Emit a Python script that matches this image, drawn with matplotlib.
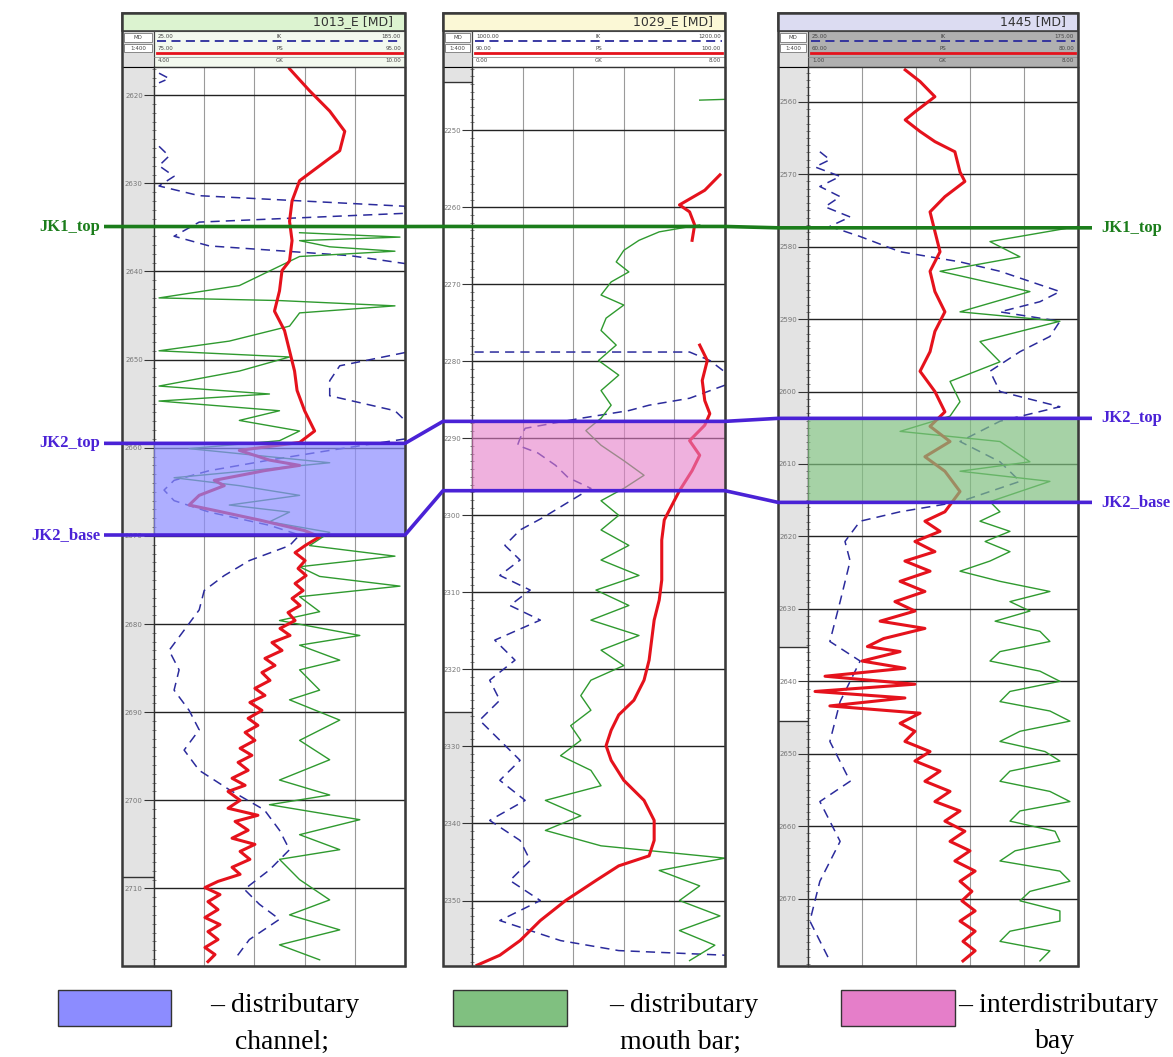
import numpy as np
import matplotlib.pyplot as plt
from matplotlib.patches import Rectangle

W, H = 1173, 1057
nan = np.nan

# ---- wells / header info
wells = ['1013_E [MD]', '1029_E [MD]', '1445 [MD]']
ik_scale = [('25.00', '185.00'), ('1000.00', '1200.00'), ('25.00', '175.00')]
ps_scale = [('75.00', '95.00'), ('90.00', '100.00'), ('60.00', '80.00')]
gk_scale = [('4.00', '10.00'), ('0.00', '8.00'), ('1.00', '8.00')]
depth_top = [2616.8, 2241.8, 2555.2]
depth_bot = [2718.8, 2358.5, 2679.3]
depth_labels = [list(range(2620, 2711, 10)), list(range(2250, 2351, 10)), list(range(2560, 2671, 10))]

# ---- formation tops (m MD) for each well
jk1_top = [2634.9, 2262.5, 2577.4]
jk2_top = [2659.5, 2287.8, 2603.7]
jk2_base = [2669.9, 2296.8, 2615.3]

# ---- log curves: (depth, position across track 0..10)
w1_ps = [(2617.0, 5.4), (2619.5, 6.2), (2621.8, 7.0), (2624.1, 7.6), (2626.3, 7.4), (2628.0, 6.6),
         (2629.7, 5.8), (2632.0, 5.5), (2634.3, 5.4), (2636.5, 5.5), (2638.8, 5.4), (2639.9, 5.1),
         (2642.2, 5.0), (2644.5, 4.8), (2646.7, 5.2), (2649.0, 5.4), (2651.3, 5.6), (2653.5, 5.7),
         (2655.8, 6.0), (2658.1, 6.4), (2659.4, 5.8), (2660.3, 3.4), (2661.4, 4.6), (2662.0, 5.8),
         (2662.6, 4.4), (2663.7, 2.4), (2664.3, 2.8), (2665.4, 1.8), (2666.5, 1.4), (2667.1, 2.4),
         (2668.2, 4.2), (2669.4, 6.0), (2670.1, 6.6), (2671.1, 6.02), (2671.9, 5.62), (2672.8, 6.02),
         (2673.7, 5.74), (2674.5, 6.06), (2675.4, 5.62), (2676.2, 5.94), (2677.1, 5.5), (2677.9, 5.82),
         (2678.7, 5.34), (2679.6, 5.62), (2680.5, 5.02), (2681.3, 5.42), (2682.1, 4.7), (2683.0, 5.1),
         (2683.9, 4.42), (2684.7, 4.82), (2685.5, 4.3), (2686.4, 4.62), (2687.3, 4.02), (2688.1, 4.42),
         (2688.9, 3.82), (2689.8, 4.3), (2690.7, 3.75), (2691.5, 4.14), (2692.3, 3.63), (2693.2, 4.02),
         (2694.1, 3.43), (2694.9, 3.9), (2695.7, 3.35), (2696.6, 3.75), (2697.5, 3.11), (2698.3, 3.63),
         (2699.0, 2.95), (2700.0, 3.43), (2700.9, 2.95), (2701.7, 4.14), (2702.4, 3.23), (2703.4, 3.75),
         (2704.3, 3.11), (2705.0, 4.02), (2705.8, 3.43), (2706.7, 3.82), (2707.6, 3.11), (2708.4, 3.43),
         (2709.2, 2.55), (2709.9, 2.03), (2710.7, 2.63), (2711.5, 2.15), (2712.4, 2.55), (2713.3, 2.03),
         (2714.1, 2.63), (2714.9, 2.15), (2715.8, 2.55), (2716.7, 2.03), (2717.5, 2.43), (2718.3, 2.15)]
w1_gk = [(2635.6, 5.8), (2636.1, 9.8), (2636.5, 5.8), (2637.2, 7.0), (2637.7, 9.6), (2638.3, 5.8),
         (2639.4, 5.0), (2640.5, 4.2), (2641.6, 3.4), (2643.0, 0.2), (2643.3, 5.0), (2643.9, 9.6),
         (2644.7, 5.8), (2646.2, 5.4), (2647.9, 3.0), (2649.0, 0.2), (2649.7, 5.4), (2651.3, 3.4),
         (2653.0, 0.2), (2653.9, 4.6), (2654.7, 0.2), (2655.8, 5.0), (2656.9, 3.4), (2658.1, 5.8),
         (2659.2, 5.0), (2660.1, 1.4), (2660.9, 4.2), (2661.7, 7.0), (2662.6, 3.8), (2663.4, 0.8),
         (2664.3, 3.4), (2665.4, 5.8), (2666.5, 3.0), (2667.3, 5.4), (2668.4, 4.6), (2669.6, 7.0),
         (2671.1, 6.2), (2672.3, 9.6), (2673.5, 5.8), (2674.6, 6.6), (2675.7, 9.8), (2676.9, 5.8),
         (2678.6, 6.6), (2679.6, 5.0), (2681.3, 8.2), (2682.4, 5.8), (2684.1, 7.4), (2685.2, 5.8),
         (2687.5, 6.6), (2688.6, 5.4), (2690.9, 7.4), (2693.2, 5.8), (2695.4, 7.0), (2697.7, 5.0),
         (2699.4, 7.0), (2700.5, 4.6), (2702.2, 8.2), (2703.9, 5.8), (2705.6, 7.4), (2706.7, 5.0),
         (2709.0, 5.8), (2711.3, 7.0), (2713.0, 5.4), (2714.7, 7.4), (2716.4, 5.0), (2718.1, 6.6)]
w1_ik = [(2617.5, 0.2), (2618.1, 0.6), (2618.6, 0.2), (nan, nan),
         (2625.8, 0.2), (2626.9, 0.6), (2628.0, 0.2), (2629.2, 0.8), (2630.3, 0.2), (2631.4, 1.8),
         (2632.6, 10.0), (2633.4, 10.0), (2634.4, 1.8), (2636.0, 0.8), (2637.1, 2.2), (2638.2, 7.8),
         (2639.1, 10.0), (nan, nan),
         (2649.2, 10.0), (2650.7, 7.4), (2652.4, 7.0), (2654.1, 7.0), (2655.8, 9.6), (2656.9, 10.0),
         (nan, nan),
         (2659.0, 10.0), (2660.3, 7.0), (2661.4, 4.6), (2662.6, 2.2), (2663.7, 0.8), (2664.8, 0.4),
         (2666.0, 0.8), (2667.3, 2.2), (2668.8, 4.6), (2669.9, 5.8), (2671.1, 5.4), (2672.8, 3.8),
         (2674.5, 2.8), (2676.2, 2.0), (2678.4, 1.8), (2680.7, 1.2), (2683.0, 0.6), (2685.2, 1.0),
         (2687.5, 0.8), (2689.8, 1.4), (2692.0, 1.8), (2694.3, 1.2), (2696.6, 1.8), (2698.8, 3.0),
         (2701.1, 4.4), (2703.4, 5.0), (2705.6, 5.4), (2707.9, 4.6), (2710.1, 3.6), (2711.8, 4.2),
         (2713.5, 5.0), (2715.8, 3.8), (2718.1, 3.2)]

w2_ps = [(2255.8, 9.8), (2257.8, 9.2), (2259.7, 8.2), (2260.6, 8.6), (2262.3, 8.8), (2264.3, 8.7),
         (nan, nan),
         (2277.9, 9.0), (2279.9, 9.3), (2282.5, 9.1), (2285.1, 9.2), (2286.8, 9.4), (2288.3, 9.2),
         (2290.3, 8.6), (2292.2, 9.0), (2294.2, 8.7), (2296.8, 8.2), (2298.7, 7.9), (2300.6, 7.6),
         (2303.2, 7.5), (2305.8, 7.5), (2308.4, 7.5), (2311.0, 7.4), (2313.6, 7.2), (2316.2, 7.1),
         (2318.8, 7.0), (2321.4, 6.8), (2324.0, 6.4), (2325.9, 5.8), (2327.9, 5.5), (2329.9, 5.3),
         (2331.8, 5.5), (2334.4, 6.0), (2337.0, 6.8), (2339.6, 7.2), (2342.2, 7.2), (2344.2, 7.0),
         (2345.5, 5.8), (2347.4, 4.9), (2350.0, 3.7), (2352.6, 2.7), (2355.2, 1.9), (2357.1, 1.1),
         (2358.4, 0.2)]
w2_gk = [(2246.0, 10.0), (2246.1, 9.0), (nan, nan),
         (2262.3, 9.0), (2263.2, 7.4), (2264.3, 6.6), (2265.6, 6.0), (2267.1, 5.7), (2268.4, 6.2),
         (2269.7, 5.5), (2271.4, 5.1), (2272.7, 6.0), (2274.4, 5.3), (2276.0, 5.1), (2277.9, 5.7),
         (2279.9, 5.0), (2281.8, 5.8), (2283.8, 5.1), (2285.7, 5.5), (2287.4, 5.1), (2289.0, 4.5),
         (2290.9, 5.1), (2292.9, 6.0), (2294.8, 6.8), (2296.5, 6.0), (2298.1, 5.1), (2300.0, 5.8),
         (2301.9, 5.1), (2303.9, 6.2), (2305.8, 5.1), (2307.8, 6.6), (2309.7, 4.9), (2311.7, 6.2),
         (2313.6, 4.7), (2315.6, 6.6), (2317.5, 5.1), (2319.5, 6.0), (2321.4, 4.7), (2323.4, 4.3),
         (2325.3, 4.7), (2327.3, 3.9), (2329.2, 4.3), (2331.2, 3.5), (2333.1, 4.7), (2335.1, 5.1),
         (2337.0, 2.9), (2339.0, 4.3), (2340.9, 2.9), (2342.9, 5.1), (2344.5, 10.0), (2346.1, 7.4),
         (2348.1, 9.0), (2350.0, 8.2), (2352.0, 9.8), (2353.9, 8.2), (2355.8, 9.6), (2357.8, 8.6)]
w2_ik = [(2278.8, 0.1), (2278.8, 8.6), (2279.9, 9.4), (2281.4, 10.0), (nan, nan),
         (2283.1, 10.0), (2284.8, 8.6), (2285.7, 7.0), (2286.4, 6.2), (2287.4, 4.3), (2288.7, 2.1),
         (2290.0, 1.9), (2290.9, 1.8), (2291.9, 2.6), (2293.5, 3.3), (2295.1, 3.8), (2296.5, 4.7),
         (2298.1, 3.9), (2300.3, 2.8), (2301.9, 1.9), (2303.9, 1.3), (2305.8, 1.9), (2307.8, 1.1),
         (2309.7, 2.3), (2311.7, 1.5), (2313.6, 2.7), (2316.2, 0.9), (2318.8, 1.7), (2321.4, 0.7),
         (2324.0, 1.1), (2326.6, 0.3), (2329.2, 1.1), (2331.8, 1.9), (2334.4, 1.1), (2337.0, 2.1),
         (2339.6, 0.7), (2342.2, 1.9), (2344.8, 2.3), (2347.4, 1.5), (2350.0, 2.7), (2352.6, 1.1),
         (2355.2, 3.5), (2356.5, 5.8), (2357.1, 10.0)]

w3_ps = [(2555.6, 3.6), (2557.2, 4.15), (2559.3, 4.7), (2561.4, 3.96), (2562.5, 3.6), (2564.1, 4.15),
         (2565.5, 4.7), (2566.9, 5.44), (2569.7, 5.63), (2571.0, 5.81), (2573.1, 5.07), (2575.2, 4.52),
         (2577.9, 4.7), (2580.7, 4.89), (2583.4, 4.52), (2586.2, 4.7), (2589.0, 5.07), (2591.7, 4.7),
         (2594.5, 4.52), (2597.2, 4.15), (2600.0, 4.7), (2602.8, 5.07), (2604.8, 4.52), (2606.9, 5.26),
         (2609.0, 4.33), (2611.0, 5.07), (2613.8, 5.63), (2616.6, 5.07), (2617.9, 4.33), (2619.3, 4.89),
         (2620.7, 3.96), (2622.1, 4.7), (2623.4, 3.59), (2624.8, 4.52), (2626.2, 3.41), (2627.6, 4.33),
         (2629.0, 3.22), (2630.3, 3.96), (2631.7, 2.67), (2632.7, 4.33), (2634.1, 2.8), (2635.2, 2.2),
         (2635.9, 3.41), (2637.2, 2.0), (2638.2, 3.59), (2639.3, 0.63), (2640.4, 3.96), (2641.4, 0.26),
         (2642.3, 3.59), (2643.4, 0.81), (2644.4, 4.15), (2645.8, 3.41), (2646.9, 3.96), (2648.3, 3.59),
         (2649.7, 4.52), (2651.0, 3.96), (2652.4, 4.89), (2653.8, 4.33), (2655.2, 5.26), (2656.6, 4.7),
         (2657.9, 5.63), (2659.3, 5.07), (2660.7, 5.81), (2662.1, 5.26), (2663.4, 6.0), (2664.8, 5.44),
         (2666.2, 6.19), (2667.6, 5.63), (2669.0, 6.07), (2670.3, 5.7), (2671.7, 6.19), (2673.1, 5.63),
         (2674.5, 6.19), (2675.9, 5.74), (2677.2, 6.19), (2678.6, 5.74)]
w3_gk = [(2577.2, 10.0), (2579.3, 6.74), (2581.4, 7.85), (2583.4, 4.89), (2586.2, 8.22), (2589.0, 5.63),
         (2590.3, 9.33), (2593.1, 6.37), (2595.9, 7.11), (2598.6, 5.26), (2601.4, 5.63), (2603.4, 5.26),
         (2605.5, 3.41), (2606.9, 7.11), (2609.7, 8.22), (2611.0, 5.63), (2612.4, 8.96), (2615.2, 6.74),
         (2616.6, 7.11), (2617.9, 6.37), (2619.3, 7.48), (2620.7, 6.56), (2622.1, 7.48), (2623.4, 6.74),
         (2624.8, 5.63), (2626.2, 7.11), (2627.6, 8.96), (2629.0, 7.48), (2630.3, 8.22), (2631.7, 6.93),
         (2633.1, 8.59), (2634.5, 8.96), (2635.9, 7.11), (2637.2, 6.74), (2638.6, 8.59), (2640.0, 9.33),
         (2641.4, 7.48), (2642.8, 7.11), (2644.1, 8.96), (2645.5, 9.7), (2646.9, 7.85), (2648.3, 7.11),
         (2649.7, 8.78), (2651.0, 9.33), (2652.4, 7.48), (2653.8, 7.11), (2655.2, 8.96), (2656.6, 9.7),
         (2657.9, 7.85), (2659.3, 7.48), (2660.7, 9.15), (2662.1, 9.33), (2663.4, 7.67), (2664.8, 7.11),
         (2666.2, 9.33), (2667.6, 9.7), (2669.0, 8.22), (2670.3, 7.85), (2671.7, 9.33), (2673.1, 9.33),
         (2674.5, 7.48), (2675.9, 7.11), (2677.2, 8.96), (2678.6, 8.59)]
w3_ik = [(2566.9, 0.44), (2568.0, 0.81), (2569.0, 0.26), (2570.3, 1.19), (2571.7, 0.44), (2573.1, 1.19),
         (2574.5, 0.63), (2575.9, 1.56), (2577.2, 0.81), (2578.6, 1.93), (2580.7, 3.41), (2582.1, 5.63),
         (2583.4, 7.11), (2584.8, 8.22), (2586.2, 9.33), (2587.6, 8.59), (2589.0, 7.11), (2590.3, 9.33),
         (2592.4, 8.96), (2594.5, 7.85), (2597.2, 6.74), (2600.0, 7.11), (2602.1, 9.33), (2604.1, 7.11),
         (2606.9, 5.63), (2609.7, 7.11), (2612.4, 7.85), (2615.2, 5.63), (2616.6, 3.41), (2617.9, 1.93),
         (2620.7, 1.37), (2623.4, 1.56), (2629.0, 1.19), (2634.5, 0.81), (2637.2, 1.93), (2642.8, 1.19),
         (2648.3, 0.81), (2653.8, 1.56), (2656.6, 0.44), (2662.1, 1.19), (2667.6, 0.44), (2673.1, 0.07),
         (2678.6, 0.81)]

ps_logs = [w1_ps, w2_ps, w3_ps]
gk_logs = [w1_gk, w2_gk, w3_gk]
ik_logs = [w1_ik, w2_ik, w3_ik]

# facies legend
facies = ['– distributary\nchannel;', '– distributary\nmouth bar;', '– interdistributary\nbay']
facies_colors = ['#8c8cff', '#80c080', '#e57ec9']

# ---- layout (pixels)
frames = [(122, 154, 405), (443, 472, 725), (778, 808, 1078)]
track_top, track_bot = 67, 966
title_fc = ['#dcf3d0', '#fbf8d6', '#dcdcf2']
row_fc = ['#f3f9ef', '#ffffff', '#b0b0b0']
zone_alpha = [0.7, 0.6, 0.7]
zone_color = [facies_colors[0], facies_colors[2], facies_colors[1]]
white_depth = [None, (2243.8, 2325.5), (2635.2, 2645.5)]
RED, GREEN, NAVY = '#e5121c', '#2f9a2f', '#2b2b9c'
JK1C, JK2C = '#1b7d1b', '#4a22d6'


def px_box(x0, y0, x1, y1):
    return [x0 / W, 1 - y1 / H, (x1 - x0) / W, (y1 - y0) / H]


fig = plt.figure(figsize=(W / 100, H / 100), dpi=100)
bg = fig.add_axes([0, 0, 1, 1], zorder=0)
bg.set_xlim(0, W)
bg.set_ylim(H, 0)
bg.axis('off')
top = fig.add_axes([0, 0, 1, 1], zorder=10)
top.set_xlim(0, W)
top.set_ylim(H, 0)
top.axis('off')

tracks = []
for i in range(3):
    x0, xd, x1 = frames[i]

    # header
    bg.add_patch(Rectangle((x0, 13), x1 - x0, 18, fc=title_fc[i], ec='#444444', lw=1.2))
    bg.text(x1 - 12, 22, wells[i], ha='right', va='center', fontsize=9, color='#333333')
    bg.add_patch(Rectangle((xd, 31), x1 - xd, 36, fc=row_fc[i], ec='#444444', lw=0.8))
    bg.add_patch(Rectangle((x0, 31), xd - x0, 36, fc='#e0e0e0', ec='#444444', lw=0.8))
    bg.add_patch(Rectangle((x0 + 2, 33), xd - x0 - 4, 9, fc='white', ec='#777777', lw=0.6))
    bg.add_patch(Rectangle((x0 + 2, 44), xd - x0 - 4, 8, fc='white', ec='#777777', lw=0.6))
    bg.text((x0 + xd) / 2, 37.5, 'MD', ha='center', va='center', fontsize=4, color='#444444')
    bg.text((x0 + xd) / 2, 48, '1:400', ha='center', va='center', fontsize=4, color='#444444')
    for yy, sc, name in [(36, ik_scale[i], 'IK'), (48, ps_scale[i], 'PS'), (61, gk_scale[i], 'GK')]:
        bg.text(xd + 4, yy, sc[0], ha='left', va='center', fontsize=4, color='#444444')
        bg.text((xd + x1) / 2, yy, name, ha='center', va='center', fontsize=4, color='#444444')
        bg.text(x1 - 4, yy, sc[1], ha='right', va='center', fontsize=4, color='#444444')
    bg.plot([xd + 3, x1 - 3], [41, 41], color=NAVY, lw=1.3, dashes=(5, 3))
    bg.plot([xd + 3, x1 - 3], [53, 53], color=RED, lw=2.0)
    bg.plot([xd, x1], [57, 57], color='#888888', lw=0.5)

    # depth column
    dax = fig.add_axes(px_box(x0, track_top, xd, track_bot), zorder=1)
    dax.set_facecolor('#e3e3e3')
    dax.set_ylim(depth_bot[i], depth_top[i])
    dax.set_xticks([])
    dax.set_yticks([])
    if white_depth[i] is not None:
        dax.axhspan(white_depth[i][0], white_depth[i][1], color='white')
        for d in white_depth[i]:
            dax.axhline(d, color='#333333', lw=1.0)
    if i == 0:
        dax.axhline(2708.7, color='#333333', lw=1.0)

    # track
    ax = fig.add_axes(px_box(xd, track_top, x1, track_bot), zorder=2)
    ax.set_xlim(0, 10)
    ax.set_ylim(depth_bot[i], depth_top[i])
    ax.set_xticks([2, 4, 6, 8])
    ax.tick_params(axis='x', length=0, labelbottom=False)
    ax.set_yticks(depth_labels[i])
    ax.set_yticklabels([str(v) for v in depth_labels[i]])
    ax.set_yticks(np.arange(np.ceil(depth_top[i]), depth_bot[i], 1.0), minor=True)
    ax.tick_params(axis='y', which='major', length=7, width=0.8, labelsize=5, labelcolor='#777777',
                   pad=1, direction='out', color='#333333')
    ax.tick_params(axis='y', which='minor', length=3, width=0.5, direction='inout', color='#555555')
    ax.set_axisbelow(True)
    ax.grid(axis='x', color='#9a9a9a', lw=0.8)
    ax.grid(axis='y', which='major', color='#222222', lw=1.0)
    for s in ax.spines.values():
        s.set_color('#333333')
        s.set_linewidth(1.0)

    ik = np.array(ik_logs[i])
    gk = np.array(gk_logs[i])
    ps = np.array(ps_logs[i])
    ax.plot(ik[:, 1], ik[:, 0], color=NAVY, lw=1.1, dashes=(6, 4), zorder=2)
    ax.plot(gk[:, 1], gk[:, 0], color=GREEN, lw=1.0, zorder=2)
    ax.plot(ps[:, 1], ps[:, 0], color=RED, lw=2.2, zorder=2)
    ax.axhspan(jk2_top[i], jk2_base[i], color=zone_color[i], alpha=zone_alpha[i], lw=0, zorder=3)
    tracks.append(ax)

    top.add_patch(Rectangle((x0, 13), x1 - x0, track_bot - 13, fill=False, ec='#3a3a3a', lw=1.8))


def y_px(ax, d):
    return top.transData.inverted().transform(ax.transData.transform((0, d)))[1]


# correlation lines between the wells
for name, levels, col in [('JK1_top', jk1_top, JK1C), ('JK2_top', jk2_top, JK2C),
                          ('JK2_base', jk2_base, JK2C)]:
    y1, y2, y3 = [y_px(tracks[k], levels[k]) for k in range(3)]
    xs = [104, frames[0][2], frames[1][0], frames[1][2], frames[2][0], 1092]
    ys = [y1, y1, y2, y2, y3, y3]
    top.plot(xs, ys, color=col, lw=2.6, solid_capstyle='butt')
    top.text(100, y1, name, ha='right', va='center', color=col, fontsize=12,
             fontweight='bold', family='Liberation Serif')
    top.text(1101, y3, name, ha='left', va='center', color=col, fontsize=12,
             fontweight='bold', family='Liberation Serif')

# facies legend
leg_x = [(58, 171), (453, 567), (841, 955)]
leg_tx = [285, 684, 1058]
for k in range(3):
    a, b = leg_x[k]
    top.add_patch(Rectangle((a, 990), b - a, 36, fc=facies_colors[k], ec='#333333', lw=1.0))
    l1, l2 = facies[k].split('\n')
    top.text(leg_tx[k], 1006, l1, ha='center', va='center', fontsize=20, family='Liberation Serif')
    top.text(leg_tx[k] - 3, 1042, l2, ha='center', va='center', fontsize=20, family='Liberation Serif')

fig.savefig('out.png', dpi=100)
